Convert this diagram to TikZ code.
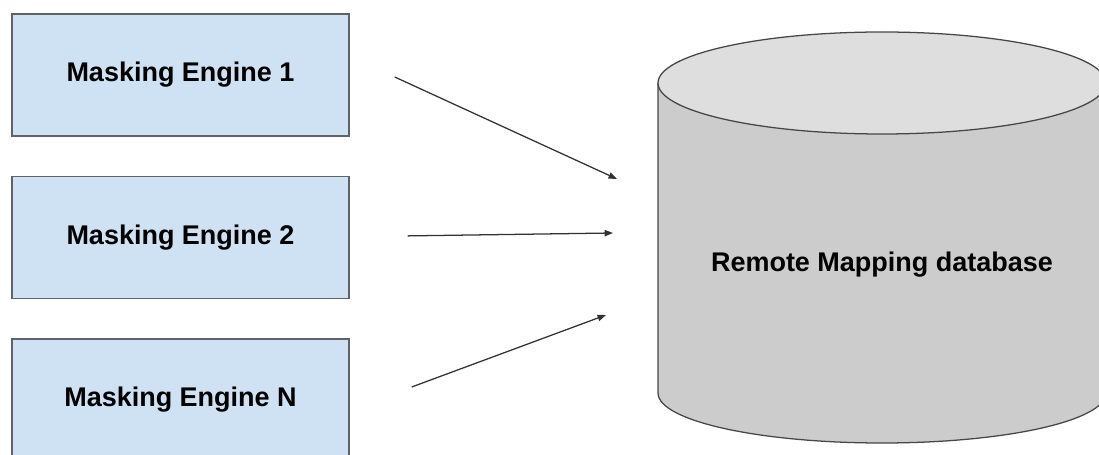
\documentclass[tikz,border=0pt]{standalone}
\usepackage{fontspec}
\setmainfont{Liberation Sans}
\usetikzlibrary{arrows.meta,positioning,calc}
\definecolor{enginefill}{RGB}{207,226,243}
\definecolor{engineline}{RGB}{95,99,104}
\definecolor{dbbody}{RGB}{204,204,204}
\definecolor{dbtop}{RGB}{222,222,222}
\definecolor{dbline}{RGB}{70,70,70}
\definecolor{arrline}{RGB}{50,50,50}
\begin{document}
\begin{tikzpicture}[
      engine/.style={draw=engineline, fill=enginefill, line width=1pt, minimum width=8.425cm,
                     minimum height=3.05cm, inner sep=0pt, font=\fontsize{19.2}{23}\selectfont\bfseries},
      arr/.style={-{Triangle[length=6pt,width=4.5pt]}, draw=arrline, line width=0.9pt}
    ]
      \useasboundingbox (0,0) rectangle (27.475,11.375);
      \clip (0,0) rectangle (27.475,11.375);
      \node[engine] (me1) at (4.5125,9.5) {Masking Engine 1};
      \node[engine] (me2) at (4.5125,5.4375) {Masking Engine 2};
      \node[engine] (meN) at (4.5125,1.375) {Masking Engine N};
      % database cylinder
      \draw[dbline, fill=dbbody, line width=0.9pt] (16.45,9.3) -- (16.45,1.55)
        arc[start angle=180, end angle=360, x radius=5.6cm, y radius=1.25cm] -- (27.65,9.3);
      \draw[dbline, fill=dbtop, line width=0.9pt] (22.05,9.3) ellipse[x radius=5.6cm, y radius=1.275cm];
      \node[font=\fontsize{19.2}{23}\selectfont\bfseries] (db) at (22.05,4.75) {Remote Mapping database};
      \coordinate (in1) at (15.425,6.9);
      \coordinate (in2) at (15.325,5.55);
      \coordinate (in3) at (15.15,3.5);
      \draw[arr] ($(me1.east)+(1.125,-0.05)$) -- (in1);
      \draw[arr] ($(me2.east)+(1.45,0.04)$) -- (in2);
      \draw[arr] ($(meN.east)+(1.55,0.325)$) -- (in3);
    \end{tikzpicture}
\end{document}
